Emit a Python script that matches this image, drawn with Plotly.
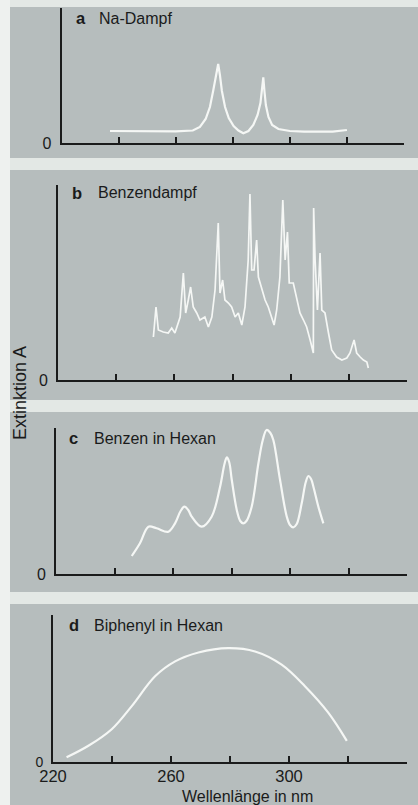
import plotly.graph_objects as go

# ---------------- data (wavelength in nm, extinction in arbitrary units) -------------
na_nm = [237, 250, 260, 266, 268.5, 270.5, 272, 273.2, 274.2, 274.9, 275.5, 276.2, 277.3,
         278.6, 280.3, 282, 283.7, 285.5, 287.2, 288.7, 289.7, 290.3, 290.7, 291.1, 291.6,
         292.5, 293.8, 296, 300, 305, 315, 320]
na_ext = [12, 12, 11.7, 12.5, 16, 24, 36, 53, 68, 79, 68, 52, 36,
          25, 17, 12.5, 9.7, 12, 18, 28, 40, 54, 65.7, 52, 38,
          26, 18, 14, 12, 11.3, 11.3, 13]

bzg_nm = [252.8, 253.7, 254.5, 256.2, 257.9, 259.1, 260.2, 262, 263.1, 263.9, 264.8, 265.6,
          266.5, 267.7, 268.8, 270.5, 271.7, 272.9, 274, 274.6, 275.1, 275.7, 276.6, 277.4,
          278.6, 279.7, 280.9, 282, 283.2, 284.3, 285.4, 286, 286.6, 287.4, 288.3, 288.9,
          290, 291.2, 292.3, 293.5, 294.3, 295.2, 296.3, 297.3, 298.1, 298.9, 299.5, 300.9,
          302.1, 303.2, 304.4, 305.5, 306.7, 307.8, 307.9, 308.4, 309.2, 310.1, 310.7, 311.8,
          313, 314.1, 315.8, 317.6, 319.3, 320.4, 321.8, 322.7, 323.9, 325, 326.2, 326.7]
bzg_ext = [43, 73, 50, 48, 47, 52, 47, 63, 107, 67, 80, 93,
           73, 67, 60, 63, 53, 63, 90, 120, 157, 87, 100, 80,
           77, 73, 63, 67, 55, 73, 120, 186, 110, 110, 140, 103,
           93, 80, 73, 63, 55, 70, 103, 180, 120, 148, 97, 97,
           80, 67, 60, 53, 40, 27, 172, 120, 70, 127, 70, 67,
           47, 30, 23, 20, 22, 27, 40, 27, 23, 20, 18, 12]

bzh_nm = [245.9, 248.7, 251.6, 254.4, 258.4, 260.7, 262.6, 263.9, 265.2, 266.4, 269.8,
          273.2, 276.1, 277.6, 278.4, 279.2, 280.1, 281.8, 283, 284, 285.1, 286.9, 289.2,
          290.7, 292, 293.3, 294.3, 296.6, 298.9, 300, 301.1, 302.3, 304, 305.4, 306.3,
          307.2, 308, 309.7, 311.4]
bzh_ext = [18, 30.7, 47.3, 45.7, 42.3, 50.7, 63, 67.3, 64, 57.3, 47.3,
           57.3, 87.3, 110, 116.7, 112, 94, 64, 53, 50.7, 53, 67.3, 110.7,
           134, 144, 141, 134, 94, 57.3, 49, 46.7, 50, 70.7, 92, 98,
           95, 87.3, 67.3, 50.7]

biph_nm = [224.6, 232, 239.9, 246.7, 254.6, 261.4, 269.3, 279.4, 288.5, 297.5, 305.4, 313.3, 319.6]
biph_ext = [4.7, 16.3, 33, 56.3, 86.3, 101.3, 110.3, 114.7, 111.3, 98, 76.3, 49.7, 21.3]

x_ticks = [220, 240, 260, 280, 300, 320, 340]
x_ticktext = ["220", "", "260", "", "300", "", "340"]
panel_letters = ["a", "b", "c", "d"]
panel_titles = ["Na-Dampf", "Benzendampf", "Benzen in Hexan", "Biphenyl in Hexan"]
x_title = "Wellenlänge in nm"
y_title = "Extinktion A"

# ---------------- layout geometry (pixels) ----------------
W, H = 418, 805
FONT = "Liberation Sans, Arial, sans-serif"
INK = "#1a1b1b"
LINE = "#f5f7f5"
GRAY = "#b6bdbd"
LIGHT = "#e3e8e5"

# (x_left, x_right, y_top, y_bottom, y_max)
panels = [
    (61.5, 404, 8, 143, 135),
    (58, 407, 185, 380, 195),
    (56, 407, 428, 574, 146),
    (53, 407, 615, 762, 148),
]
series = [(na_nm, na_ext, "linear"), (bzg_nm, bzg_ext, "linear"),
          (bzh_nm, bzh_ext, "spline"), (biph_nm, biph_ext, "spline")]
label_pos = [(74, 97, 18), (70, 96, 193), (67, 92, 438), (67, 92, 625)]

fig = go.Figure()
layout = dict(width=W, height=H, margin=dict(l=0, r=0, t=0, b=0, pad=0),
              paper_bgcolor=GRAY, plot_bgcolor="rgba(0,0,0,0)", showlegend=False,
              font=dict(family=FONT, color=INK))

for i, ((xl, xr, yt, yb, ymax), (xs, ys, shp)) in enumerate(zip(panels, series)):
    n = "" if i == 0 else str(i + 1)
    fig.add_trace(go.Scatter(x=xs, y=ys, mode="lines", xaxis="x" + n, yaxis="y" + n,
                             line=dict(color=LINE, width=2.2 if i != 1 else 1.7, shape=shp,
                                       smoothing=1.0), hoverinfo="skip"))
    last = i == 3
    layout["xaxis" + n] = dict(domain=[xl / W, xr / W], range=[220, 340], anchor="y" + n,
                               automargin=False,
                               showline=True, linecolor=INK, linewidth=2, showgrid=False,
                               zeroline=False, tickvals=x_ticks, ticktext=x_ticktext,
                               ticks="inside", ticklen=6, tickwidth=1.5, tickcolor=INK,
                               showticklabels=last, ticklabelstandoff=-2,
                               tickfont=dict(size=16.5, color=INK))
    layout["yaxis" + n] = dict(domain=[1 - yb / H, 1 - yt / H], range=[0, ymax],
                               anchor="x" + n, automargin=False,
                               showline=True, linecolor=INK, linewidth=2,
                               showgrid=False, zeroline=False, tickvals=[0], ticktext=["0"],
                               ticks="", ticklabelstandoff=5,
                               tickfont=dict(size=14 if last else 16, color=INK))

annotations = []
for (lx, tx, ly), letter, title in zip(label_pos, panel_letters, panel_titles):
    annotations.append(dict(text="<b>" + letter + "</b>", x=lx / W, y=1 - ly / H,
                            xref="paper", yref="paper", xanchor="left", yanchor="middle",
                            showarrow=False, font=dict(size=16.5, color=INK)))
    annotations.append(dict(text=title, x=tx / W, y=1 - ly / H, xref="paper", yref="paper",
                            xanchor="left", yanchor="middle", showarrow=False,
                            font=dict(size=16, color=INK)))
annotations.append(dict(text=x_title, x=247 / W, y=1 - 796 / H, xref="paper", yref="paper",
                        xanchor="center", yanchor="middle", showarrow=False,
                        font=dict(size=16, color=INK)))
annotations.append(dict(text=y_title, x=20 / W, y=1 - 393 / H, xref="paper", yref="paper",
                        xanchor="center", yanchor="middle", showarrow=False, textangle=-90,
                        font=dict(size=18, color=INK)))
layout["annotations"] = annotations

shapes = []
for y0, y1 in [(0, 7), (158, 170), (400, 412), (592, 604)]:
    shapes.append(dict(type="rect", xref="paper", yref="paper", x0=0, x1=1,
                       y0=1 - y1 / H, y1=1 - y0 / H, fillcolor=LIGHT, line=dict(width=0),
                       layer="below"))
shapes.append(dict(type="rect", xref="paper", yref="paper", x0=0, x1=10 / W, y0=0, y1=1,
                   fillcolor="#eef1ef", line=dict(width=0), layer="below"))
layout["shapes"] = shapes

fig.update_layout(**layout)
fig.write_html("out.html")
